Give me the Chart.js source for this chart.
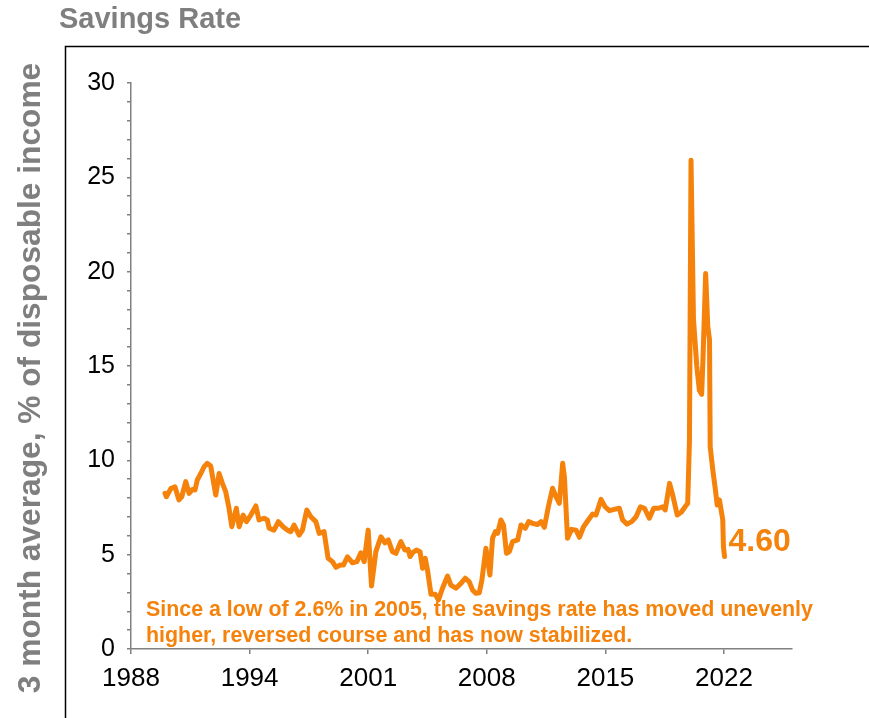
<!DOCTYPE html>
<html>
<head>
<meta charset="utf-8">
<script src="https://cdn.jsdelivr.net/npm/chart.js@4/dist/chart.umd.min.js"></script>
<style>
  html, body { margin: 0; padding: 0; background: #fff; }
  canvas { display: block; }
</style>
</head>
<body>
<canvas id="savingsChart" width="869" height="718"></canvas>
<script>
// data (decimal year, % of disposable income)
const years = [
    1989.95, 1990.03, 1990.28, 1990.52, 1990.75, 1990.91, 1991.14, 1991.33, 1991.52, 1991.67,
    1991.80, 1992.00, 1992.19, 1992.38, 1992.57, 1992.86, 1993.05, 1993.24, 1993.43, 1993.62,
    1993.78, 1994.04, 1994.20, 1994.43, 1994.62, 1994.87, 1995.16, 1995.34, 1995.63, 1995.82,
    1995.92, 1996.20, 1996.45, 1996.72, 1996.97, 1997.16, 1997.35, 1997.64, 1997.83, 1998.08,
    1998.31, 1998.60, 1998.79, 1999.07, 1999.30, 1999.55, 1999.75, 2000.00, 2000.18, 2000.41,
    2000.70, 2000.95, 2001.18, 2001.37, 2001.60, 2001.79, 2002.04, 2002.33, 2002.56, 2002.75,
    2002.99, 2003.19, 2003.47, 2003.70, 2003.89, 2004.00, 2004.14, 2004.37, 2004.57, 2004.72,
    2004.87, 2005.00, 2005.20, 2005.44, 2005.63, 2005.86, 2006.15, 2006.34, 2006.63, 2006.92,
    2007.16, 2007.39, 2007.58, 2007.78, 2007.97, 2008.12, 2008.35, 2008.58, 2008.73, 2008.89,
    2009.02, 2009.21, 2009.36, 2009.53, 2009.69, 2009.88, 2010.17, 2010.36, 2010.61, 2010.80,
    2011.03, 2011.31, 2011.51, 2011.70, 2011.93, 2012.17, 2012.37, 2012.56, 2012.75, 2012.85,
    2013.03, 2013.26, 2013.52, 2013.71, 2013.95, 2014.22, 2014.47, 2014.66, 2014.95, 2015.18,
    2015.43, 2015.71, 2016.00, 2016.19, 2016.44, 2016.71, 2016.96, 2017.21, 2017.44, 2017.72,
    2017.97, 2018.24, 2018.49, 2018.63, 2018.88, 2019.05, 2019.32, 2019.55, 2019.74, 2019.92,
    2020.02, 2020.11, 2020.25, 2020.44, 2020.59, 2020.72, 2020.80, 2020.95, 2021.07, 2021.17,
    2021.21, 2021.36, 2021.51, 2021.61, 2021.74, 2021.93, 2021.97, 2022.03
];
const savingsRate = [
    8.25, 8.07, 8.5, 8.6, 7.9, 8.07, 8.87, 8.25, 8.46, 8.43,
    8.96, 9.3, 9.66, 9.84, 9.7, 8.16, 9.3, 8.78, 8.34, 7.46,
    6.48, 7.46, 6.48, 7.1, 6.75, 7.1, 7.58, 6.84, 6.93, 6.84,
    6.4, 6.3, 6.75, 6.48, 6.3, 6.22, 6.57, 6.04, 6.3, 7.37,
    7.01, 6.75, 6.13, 6.22, 4.81, 4.63, 4.33, 4.45, 4.45, 4.89,
    4.57, 4.63, 5.1, 4.63, 6.3, 3.34, 5.16, 5.95, 5.63, 5.78,
    5.16, 5.07, 5.69, 5.25, 5.28, 4.9, 5.1, 5.25, 5.16, 4.28,
    4.81, 4.19, 2.9, 2.9, 2.6, 3.22, 3.87, 3.39, 3.22, 3.48,
    3.75, 3.57, 3.13, 2.95, 2.98, 3.66, 5.34, 3.92, 5.87, 6.22,
    6.13, 6.84, 6.57, 5.07, 5.16, 5.69, 5.78, 6.57, 6.4, 6.75,
    6.66, 6.6, 6.75, 6.45, 7.54, 8.52, 8.07, 7.72, 9.84, 9.13,
    5.87, 6.34, 6.3, 5.92, 6.48, 6.84, 7.15, 7.1, 7.93, 7.54,
    7.33, 7.4, 7.46, 6.84, 6.62, 6.75, 7.01, 7.54, 7.46, 6.93,
    7.46, 7.46, 7.54, 7.37, 8.78, 8.2, 7.1, 7.25, 7.5, 7.72,
    11.0, 25.9, 17.5, 15.0, 13.7, 13.5, 15.5, 19.9, 17.1, 16.4,
    10.72, 9.49, 8.43, 7.63, 7.9, 6.84, 5.42, 4.9
];
const xTickLabels = ['1988', '1994', '2001', '2008', '2015', '2022'];
const latestLabel = '4.60';
const noteLines = [
    'Since a low of 2.6% in 2005, the savings rate has moved unevenly',
    'higher, reversed course and has now stabilized.'
];

const ORANGE = '#F5820B';
const GREY = '#808080';
const FONT = '"Liberation Sans", Arial, Helvetica, sans-serif';

// labels sit on an even 6.8-year spacing starting at 1988
const xTickValues = xTickLabels.map((_, i) => 1988 + i * 6.8);

const extrasPlugin = {
    id: 'extras',
    beforeDatasetsDraw(chart) {
        const ctx = chart.ctx;
        ctx.save();
        ctx.fillStyle = ORANGE;
        ctx.font = 'bold 21.4px ' + FONT;
        ctx.textBaseline = 'alphabetic';
        ctx.fillText(noteLines[0], 146, 616);
        ctx.fillText(noteLines[1], 146, 642);
        ctx.restore();
    },
    afterDraw(chart) {
        const ctx = chart.ctx;
        ctx.save();

        // frame on left and top
        ctx.strokeStyle = '#000';
        ctx.lineWidth = 1.5;
        ctx.beginPath();
        ctx.moveTo(65.5, 718);
        ctx.lineTo(65.5, 46.5);
        ctx.lineTo(869, 46.5);
        ctx.stroke();

        // title
        ctx.fillStyle = '#7F7F7F';
        ctx.font = 'bold 29px ' + FONT;
        ctx.textBaseline = 'alphabetic';
        ctx.fillText('Savings Rate', 59, 28);

        // y axis title
        ctx.save();
        ctx.translate(31, 378);
        ctx.rotate(-Math.PI / 2);
        ctx.textAlign = 'center';
        ctx.textBaseline = 'middle';
        ctx.font = 'bold 31.7px ' + FONT;
        ctx.fillText('3 month average, % of disposable income', 0, 0);
        ctx.restore();

        // last value label
        const pts = chart.getDatasetMeta(0).data;
        const last = pts[pts.length - 1];
        ctx.fillStyle = ORANGE;
        ctx.font = 'bold 32px ' + FONT;
        ctx.textBaseline = 'middle';
        ctx.fillText(latestLabel, last.x + 4, last.y - 14);

        ctx.restore();
    }
};

Chart.defaults.font.family = FONT;

new Chart(document.getElementById('savingsChart'), {
    type: 'line',
    data: {
        datasets: [{
            data: years.map((y, i) => ({ x: y, y: savingsRate[i] })),
            borderColor: ORANGE,
            borderWidth: 5,
            borderCapStyle: 'round',
            borderJoinStyle: 'round',
            pointRadius: 0,
            tension: 0,
            fill: false
        }]
    },
    options: {
        responsive: false,
        animation: false,
        devicePixelRatio: 1,
        layout: { padding: { left: 0, right: 77, top: 83, bottom: 0 } },
        plugins: {
            legend: { display: false },
            tooltip: { enabled: false }
        },
        scales: {
            x: {
                type: 'linear',
                min: 1988,
                max: 2025.9,
                afterBuildTicks(axis) {
                    axis.ticks = xTickValues.map(v => ({ value: v }));
                },
                afterFit(axis) { axis.height = 69; },
                ticks: {
                    autoSkip: false,
                    maxRotation: 0,
                    padding: 9,
                    color: '#000',
                    font: { size: 26 },
                    callback: (v, i) => xTickLabels[i]
                },
                grid: { drawOnChartArea: false, tickLength: 5, color: GREY, lineWidth: 1.5 },
                border: { color: GREY, width: 1.5 }
            },
            y: {
                min: 0,
                max: 30,
                afterFit(axis) { axis.width = 131; },
                ticks: {
                    stepSize: 1,
                    autoSkip: false,
                    padding: 12,
                    color: '#000',
                    font: { size: 25 },
                    callback: v => (v % 5 === 0 ? v : '')
                },
                grid: { drawOnChartArea: false, tickLength: 4, color: GREY, lineWidth: 1.5 },
                border: { color: GREY, width: 1.5 }
            }
        }
    },
    plugins: [extrasPlugin]
});
</script>
</body>
</html>
